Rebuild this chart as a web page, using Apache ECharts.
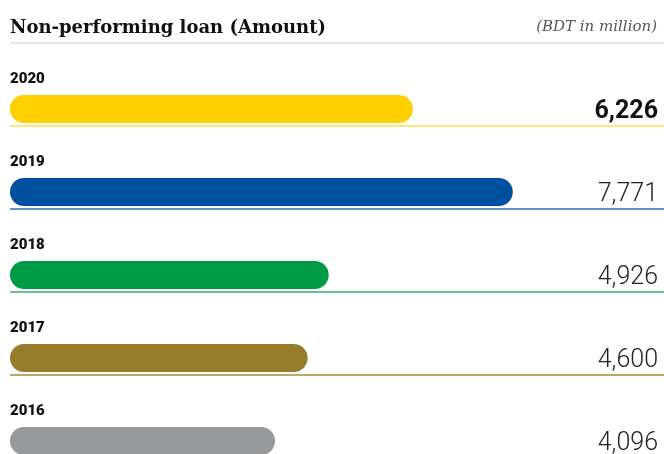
<!DOCTYPE html>
<html>
<head>
<meta charset="utf-8">
<script src="https://cdn.jsdelivr.net/npm/echarts@6/dist/echarts.min.js"></script>
<style>
  html, body { margin: 0; padding: 0; background: #fff; }
  #chart { width: 664px; height: 454px; }
</style>
</head>
<body>
<div id="chart"></div>
<script>
// Non-performing loan amount by year (BDT in million)
const years = ['2020', '2019', '2018', '2017', '2016'];
const amounts = [6226, 7771, 4926, 4600, 4096];
const barColors = ['#FFD000', '#0050A0', '#009A46', '#977D2B', '#97999B'];
const ruleColors = ['#DDDDDD', '#FFDC55', '#2D6DB9', '#3DAA6C', '#A58A36', '#A9ABAD'];

const fmt = v => v.toLocaleString('en-US');

const chart = echarts.init(document.getElementById('chart'), null, { renderer: 'canvas' });

chart.setOption({
  animation: false,
  backgroundColor: '#ffffff',
  title: [
    {
      text: 'Non-performing loan (Amount)',
      left: 10, top: 19, padding: 0,
      textStyle: { fontFamily: 'DejaVu Serif', fontWeight: 'bold', fontSize: 18, color: '#111' }
    },
    {
      text: '(BDT in million)',
      right: 7, top: 20, padding: 0,
      textStyle: { fontFamily: 'DejaVu Serif', fontStyle: 'italic', fontWeight: 'normal', fontSize: 15, color: '#555' }
    }
  ],
  grid: [
    // bars and value labels
    { left: 10, right: 7, top: 67.5, height: 415, outerBoundsMode: 'none' },
    // year labels and row rules
    { left: 10, right: 0, top: 42.5, height: 415, outerBoundsMode: 'none' }
  ],
  xAxis: [
    { gridIndex: 0, type: 'value', min: 0, max: 10000, show: false },
    { gridIndex: 1, type: 'value', min: 0, max: 1, show: false }
  ],
  yAxis: [
    {
      gridIndex: 0, type: 'category', data: years, inverse: true,
      axisLine: { show: false }, axisTick: { show: false }, axisLabel: { show: false },
      splitLine: { show: false }
    },
    {
      gridIndex: 0, type: 'category', data: amounts.map(fmt), inverse: true, position: 'right',
      axisLine: { show: false }, axisTick: { show: false }, splitLine: { show: false },
      axisLabel: {
        inside: true, margin: -1, align: 'right', verticalAlign: 'middle',
        formatter: (v, i) => i === 0 ? '{b|' + v + '}' : '{n|' + v + '}',
        rich: {
          b: { fontFamily: 'Roboto', fontWeight: 'bold', fontSize: 25, color: '#111', padding: [5, 0, 0, 0] },
          n: { fontFamily: 'Roboto', fontWeight: 300, fontSize: 25, color: '#222', padding: [5, 0, 0, 0] }
        }
      }
    },
    {
      gridIndex: 1, type: 'category', data: years, inverse: true,
      axisLine: { show: false }, axisTick: { show: false },
      axisLabel: {
        inside: true, margin: 0, align: 'left', verticalAlign: 'bottom',
        lineHeight: 10,
        fontFamily: 'Roboto', fontWeight: 900, fontSize: 15, color: '#111'
      },
      splitLine: { show: true, lineStyle: { color: ruleColors, width: 1.5 } }
    }
  ],
  series: [
    {
      type: 'bar',
      xAxisIndex: 0, yAxisIndex: 0,
      data: amounts.map((v, i) => ({ value: v, itemStyle: { color: barColors[i] } })),
      barWidth: 28,
      itemStyle: { borderRadius: 14 },
      silent: true
    },
    {
      type: 'bar',
      xAxisIndex: 1, yAxisIndex: 2,
      data: [],
      silent: true
    }
  ]
});
</script>
</body>
</html>
